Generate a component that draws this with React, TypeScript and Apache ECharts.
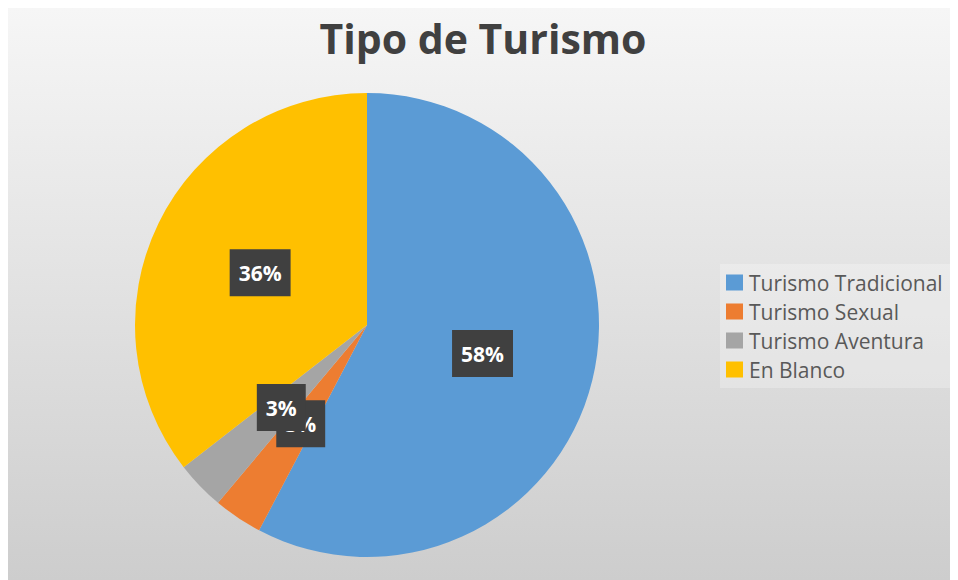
import React, { useEffect, useRef } from "react";
import * as echarts from "echarts";

const categories = ["Turismo Tradicional", "Turismo Sexual", "Turismo Aventura", "En Blanco"];
const values = [57.7, 3.4, 3.4, 35.5];
const colors = ["#5b9bd5", "#ed7d31", "#a5a5a5", "#ffc000"];
const titleText = "Tipo de Turismo";

export default function App() {
  const ref = useRef<HTMLDivElement>(null);
  useEffect(() => {
    document.body.style.overflow = "hidden";
    const chart = echarts.init(ref.current!, null, { renderer: "svg" });
    chart.setOption({
      animation: false,
      backgroundColor: {
        type: "linear",
        x: 0, y: 0, x2: 0, y2: 1,
        colorStops: [
          { offset: 0, color: "#f6f6f6" },
          { offset: 1, color: "#cdcdcd" },
        ],
      },
      title: {
        text: titleText,
        left: "center",
        top: 4,
        textStyle: {
          fontFamily: "Open Sans",
          fontWeight: "bold",
          fontSize: 41,
          color: "#404040",
        },
      },
      legend: {
        orient: "vertical",
        left: 712,
        top: 256,
        itemWidth: 17,
        itemHeight: 16,
        itemGap: 8,
        padding: [8, 40, 8, 6],
        backgroundColor: "rgba(255,255,255,0.25)",
        icon: "rect",
        data: categories,
        textStyle: { fontFamily: "Open Sans", fontSize: 21, color: "#595959", padding: [0, 0, 0, 1] },
      },
      series: [
        {
          type: "pie",
          center: [359, 317],
          radius: 232,
          startAngle: 90,
          clockwise: true,
          data: categories.map((name, i) => ({ name, value: values[i], itemStyle: { color: colors[i] } })),
          label: {
            show: true,
            position: "inside",
            formatter: (p: any) => Math.round(p.percent) + "%",
            backgroundColor: "#404040",
            color: "#ffffff",
            fontFamily: "Open Sans",
            fontWeight: "bold",
            fontSize: 21,
            padding: [13, 9, 13, 9],
          },
          labelLayout: { hideOverlap: false },
          labelLine: { show: false },
          emphasis: { disabled: true },
        },
      ],
    });
    return () => chart.dispose();
  }, []);
  return <div ref={ref} style={{ width: 950, height: 572 }} />;
}
